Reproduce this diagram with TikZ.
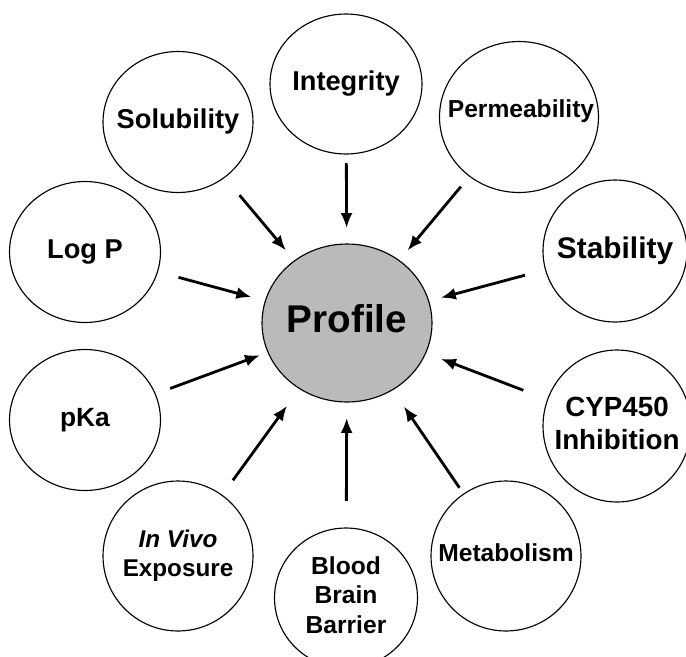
\documentclass[tikz,border=0pt]{standalone}
\usepackage{fontspec}
\setmainfont{Liberation Sans}
\usetikzlibrary{shapes.geometric,arrows.meta,calc}
\newcommand{\zw}[1]{\makebox[0pt]{\begin{tabular}{@{}c@{}}#1\end{tabular}}}
\begin{document}
\begin{tikzpicture}[x=0.02cm,y=-0.02cm,
  bub/.style={ellipse,draw,line width=0.65pt,inner sep=0pt},
  arr/.style={line width=1.6pt,-{Latex[length=3mm,width=2.4mm]}}]
\clip (0,0) rectangle (686,656);
\fill[white] (0,0) rectangle (686,656);
% centre
\node[bub,fill=black!27,minimum width=3.4cm,minimum height=3.16cm,font=\bfseries\fontsize{22}{26}\selectfont] (prof) at (347,323) {\zw{Profile}};
% outer bubbles
\node[bub,minimum width=3.0cm,minimum height=2.82cm,font=\bfseries\fontsize{15.5}{18.6}\selectfont] (sol) at (178,122) {\zw{Solubility}};
\node[bub,minimum width=3.04cm,minimum height=2.8cm,font=\bfseries\fontsize{15.5}{18.6}\selectfont] (integ) at (346,84) {\zw{Integrity}};
\node[bub,minimum width=3.18cm,minimum height=3.02cm,font=\bfseries\fontsize{14}{16.8}\selectfont] (perm) at (519,117) {\zw{\raisebox{0.14cm}{\hspace{0.08cm}Permeability}}};
\node[bub,minimum width=3.02cm,minimum height=2.82cm,font=\bfseries\fontsize{15.5}{18.6}\selectfont] (logp) at (85,252) {\zw{Log P}};
\node[bub,minimum width=2.88cm,minimum height=2.84cm,font=\bfseries\fontsize{17}{20.4}\selectfont] (stab) at (615,251) {\zw{Stability}};
\node[bub,minimum width=3.02cm,minimum height=2.82cm,font=\bfseries\fontsize{15}{18}\selectfont] (pka) at (85,420) {\zw{pKa}};
\node[bub,minimum width=2.96cm,minimum height=3.04cm,font=\bfseries\fontsize{15.8}{18.7}\selectfont] (cyp) at (617,426) {\zw{CYP450\\Inhibition}};
\node[bub,minimum width=3.0cm,minimum height=3.0cm,font=\bfseries\fontsize{13.8}{16.4}\selectfont] (invivo) at (178,556) {\zw{\itshape In Vivo\\Exposure}};
\node[bub,minimum width=2.86cm,minimum height=2.8cm,font=\bfseries\fontsize{14}{17}\selectfont] (bbb) at (346,598) {\zw{Blood\\Brain\\Barrier}};
\node[bub,minimum width=3.0cm,minimum height=3.0cm,font=\bfseries\fontsize{14}{16.8}\selectfont] (metab) at (506,556) {\zw{Metabolism}};
% arrows
\draw[arr] ($(sol)!0.364!(prof)$) -- ($(sol)!0.639!(prof)$);
\draw[arr] ($(integ)!0.331!(prof)$) -- ($(integ)!0.603!(prof)$);
\draw[arr] ($(perm)!0.338!(prof)$) -- ($(perm)!0.648!(prof)$);
\draw[arr] ($(logp)!0.357!(prof)$) -- ($(logp)!0.635!(prof)$);
\draw[arr] ($(stab)!0.336!(prof)$) -- ($(stab)!0.650!(prof)$);
\draw[arr] ($(pka)!0.325!(prof)$) -- ($(pka)!0.668!(prof)$);
\draw[arr] ($(cyp)!0.347!(prof)$) -- ($(cyp)!0.652!(prof)$);
\draw[arr] ($(invivo)!0.325!(prof)$) -- ($(invivo)!0.645!(prof)$);
\draw[arr] ($(bbb)!0.353!(prof)$) -- ($(bbb)!0.655!(prof)$);
\draw[arr] ($(metab)!0.293!(prof)$) -- ($(metab)!0.642!(prof)$);
\end{tikzpicture}
\end{document}
